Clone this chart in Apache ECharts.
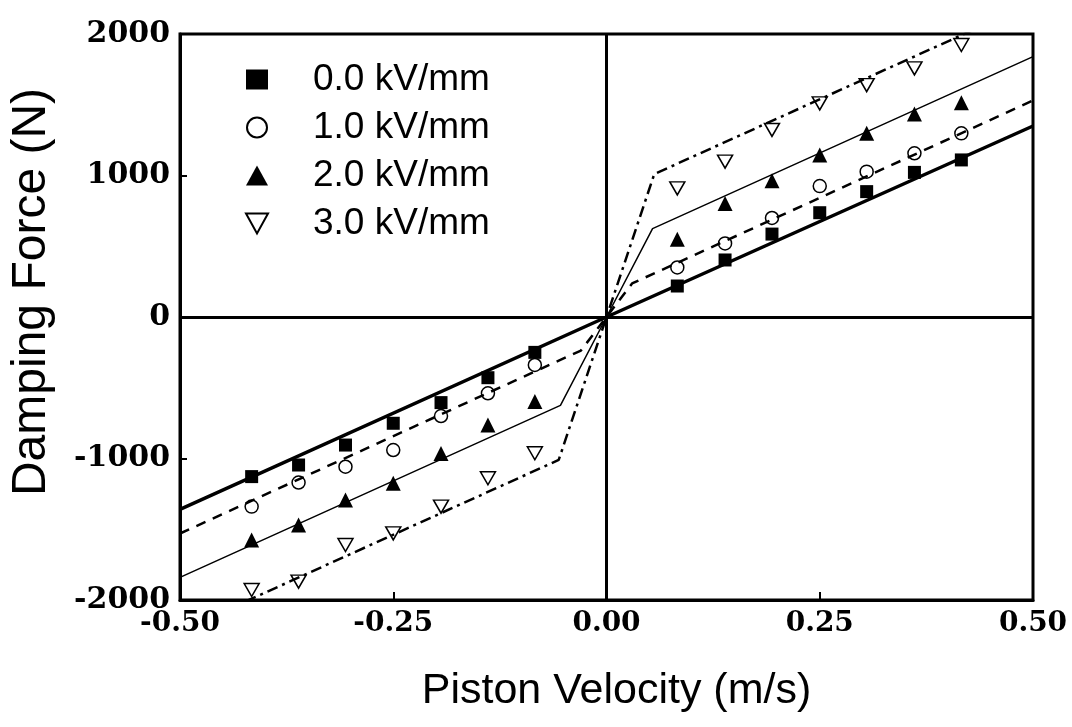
<!DOCTYPE html>
<html>

<head>
  <meta charset="utf-8">
  <title>Damping Force vs Piston Velocity</title>
  <script src="https://cdn.jsdelivr.net/npm/echarts@6/dist/echarts.min.js"></script>
</head>

<body style="margin:0">
  <div id="main" style="width:1072px;height:727px;"></div>
  <script type="text/javascript">
    // measured points (piston velocity, m/s)
    var velocity = [-0.416, -0.361, -0.306, -0.25, -0.194, -0.139, -0.084,
      0.083, 0.139, 0.194, 0.25, 0.305, 0.361, 0.416];

    // damping force (N) for each field strength
    var force0 = [-1128, -1046, -905, -751, -605, -429, -250, 219, 403, 586, 737, 886, 1022, 1110];
    var force1 = [-1340, -1170, -1058, -940, -700, -539, -339, 350, 520, 700, 925, 1027, 1157, 1298];
    var force2 = [-1576, -1470, -1293, -1175, -964, -763, -598, 549, 803, 963, 1145, 1298, 1435, 1515];
    var force3 = [-1929, -1870, -1611, -1529, -1340, -1140, -963, 909, 1098, 1322, 1510, 1639, 1757, 1922];

    // model curves (bilinear)
    var fitX0 = [-0.5, 0, 0.5];
    var fitY0 = [-1360, 0, 1350];
    var fitX1 = [-0.5, -0.03, 0, 0.03, 0.5];
    var fitY1 = [-1530, -237, 0, 237, 1530];
    var fitX2 = [-0.5, -0.054, 0, 0.054, 0.5];
    var fitY2 = [-1840, -625, 0, 625, 1840];
    var fitX3 = [-0.5, -0.056, 0, 0.056, 0.5];
    var fitY3 = [-2220, -1010, 0, 1010, 2220];

    var names = ['0.0 kV/mm', '1.0 kV/mm', '2.0 kV/mm', '3.0 kV/mm'];

    function pairs(xs, ys) {
      return xs.map(function (x, i) { return [x, ys[i]]; });
    }

    var invTri = 'path://M0,0L20,0L10,18Z';
    var serifFont = 'DejaVu Serif';

    var myChart = echarts.init(document.getElementById('main'));

    var option = {
      animation: false,
      backgroundColor: '#fff',
      grid: {
        left: 178, right: 39, top: 34, bottom: 127,
        show: true, borderColor: '#000', borderWidth: 3
      },
      legend: {
        orient: 'vertical',
        left: 240,
        top: 56,
        itemWidth: 22,
        itemHeight: 20,
        itemGap: 11,
        data: names,
        textStyle: {
          fontFamily: 'Liberation Sans',
          fontSize: 37,
          color: '#000',
          lineHeight: 34,
          padding: [0, 0, 0, 40]
        }
      },
      xAxis: {
        type: 'value',
        min: -0.5, max: 0.5, interval: 0.25,
        name: 'Piston Velocity (m/s)',
        nameLocation: 'middle',
        nameGap: 70,
        nameTextStyle: { fontFamily: 'Liberation Sans', fontSize: 43, color: '#000', padding: [0, 0, 0, 20] },
        axisLine: { onZero: false, lineStyle: { color: '#000', width: 3 } },
        axisTick: { inside: true, length: 8, lineStyle: { color: '#000', width: 2 } },
        axisLabel: {
          margin: 10, color: '#000', fontFamily: serifFont, fontWeight: 'bold', fontSize: 28,
          formatter: function (v) { return v.toFixed(2); }
        },
        splitLine: { show: false }
      },
      yAxis: {
        type: 'value',
        min: -2000, max: 2000, interval: 1000,
        name: 'Damping Force (N)',
        nameLocation: 'middle',
        nameGap: 124,
        nameTextStyle: { fontFamily: 'Liberation Sans', fontSize: 48, color: '#000', padding: [0, 0, 0, 50] },
        axisLine: { onZero: false, lineStyle: { color: '#000', width: 3 } },
        axisTick: { inside: true, length: 7, lineStyle: { color: '#000', width: 2 } },
        axisLabel: {
          margin: 10, color: '#000', fontFamily: serifFont, fontWeight: 'bold', fontSize: 30,
          formatter: function (v) { return String(v); }
        },
        splitLine: { show: false }
      },
      series: [
        {
          type: 'line', data: pairs(fitX0, fitY0), showSymbol: false, silent: true,
          lineStyle: { color: '#000', width: 3.5 },
          markLine: {
            silent: true, symbol: 'none', label: { show: false },
            lineStyle: { color: '#000', width: 3, type: 'solid' },
            data: [{ xAxis: 0 }, { yAxis: 0 }]
          }
        },
        {
          type: 'line', data: pairs(fitX1, fitY1), showSymbol: false, silent: true,
          lineStyle: { color: '#000', width: 2.5, type: [10, 8] }
        },
        {
          type: 'line', data: pairs(fitX2, fitY2), showSymbol: false, silent: true,
          lineStyle: { color: '#000', width: 1.5 }
        },
        {
          type: 'line', data: pairs(fitX3, fitY3), showSymbol: false, silent: true,
          lineStyle: { color: '#000', width: 2.5, type: [11, 5, 3, 5] }
        },
        {
          name: names[0], type: 'scatter', data: pairs(velocity, force0),
          symbol: 'rect', symbolSize: 13, itemStyle: { color: '#000', opacity: 1 }
        },
        {
          name: names[1], type: 'scatter', data: pairs(velocity, force1),
          symbol: 'circle', symbolSize: 13,
          itemStyle: { color: '#fff', borderColor: '#000', borderWidth: 1.5, opacity: 1 }
        },
        {
          name: names[2], type: 'scatter', data: pairs(velocity, force2),
          symbol: 'triangle', symbolSize: 15, itemStyle: { color: '#000', opacity: 1 }
        },
        {
          name: names[3], type: 'scatter', data: pairs(velocity, force3),
          symbol: invTri, symbolSize: [15, 13],
          itemStyle: { color: '#fff', borderColor: '#000', borderWidth: 1.5, opacity: 1 }
        }
      ]
    };

    myChart.setOption(option);
  </script>
</body>

</html>
